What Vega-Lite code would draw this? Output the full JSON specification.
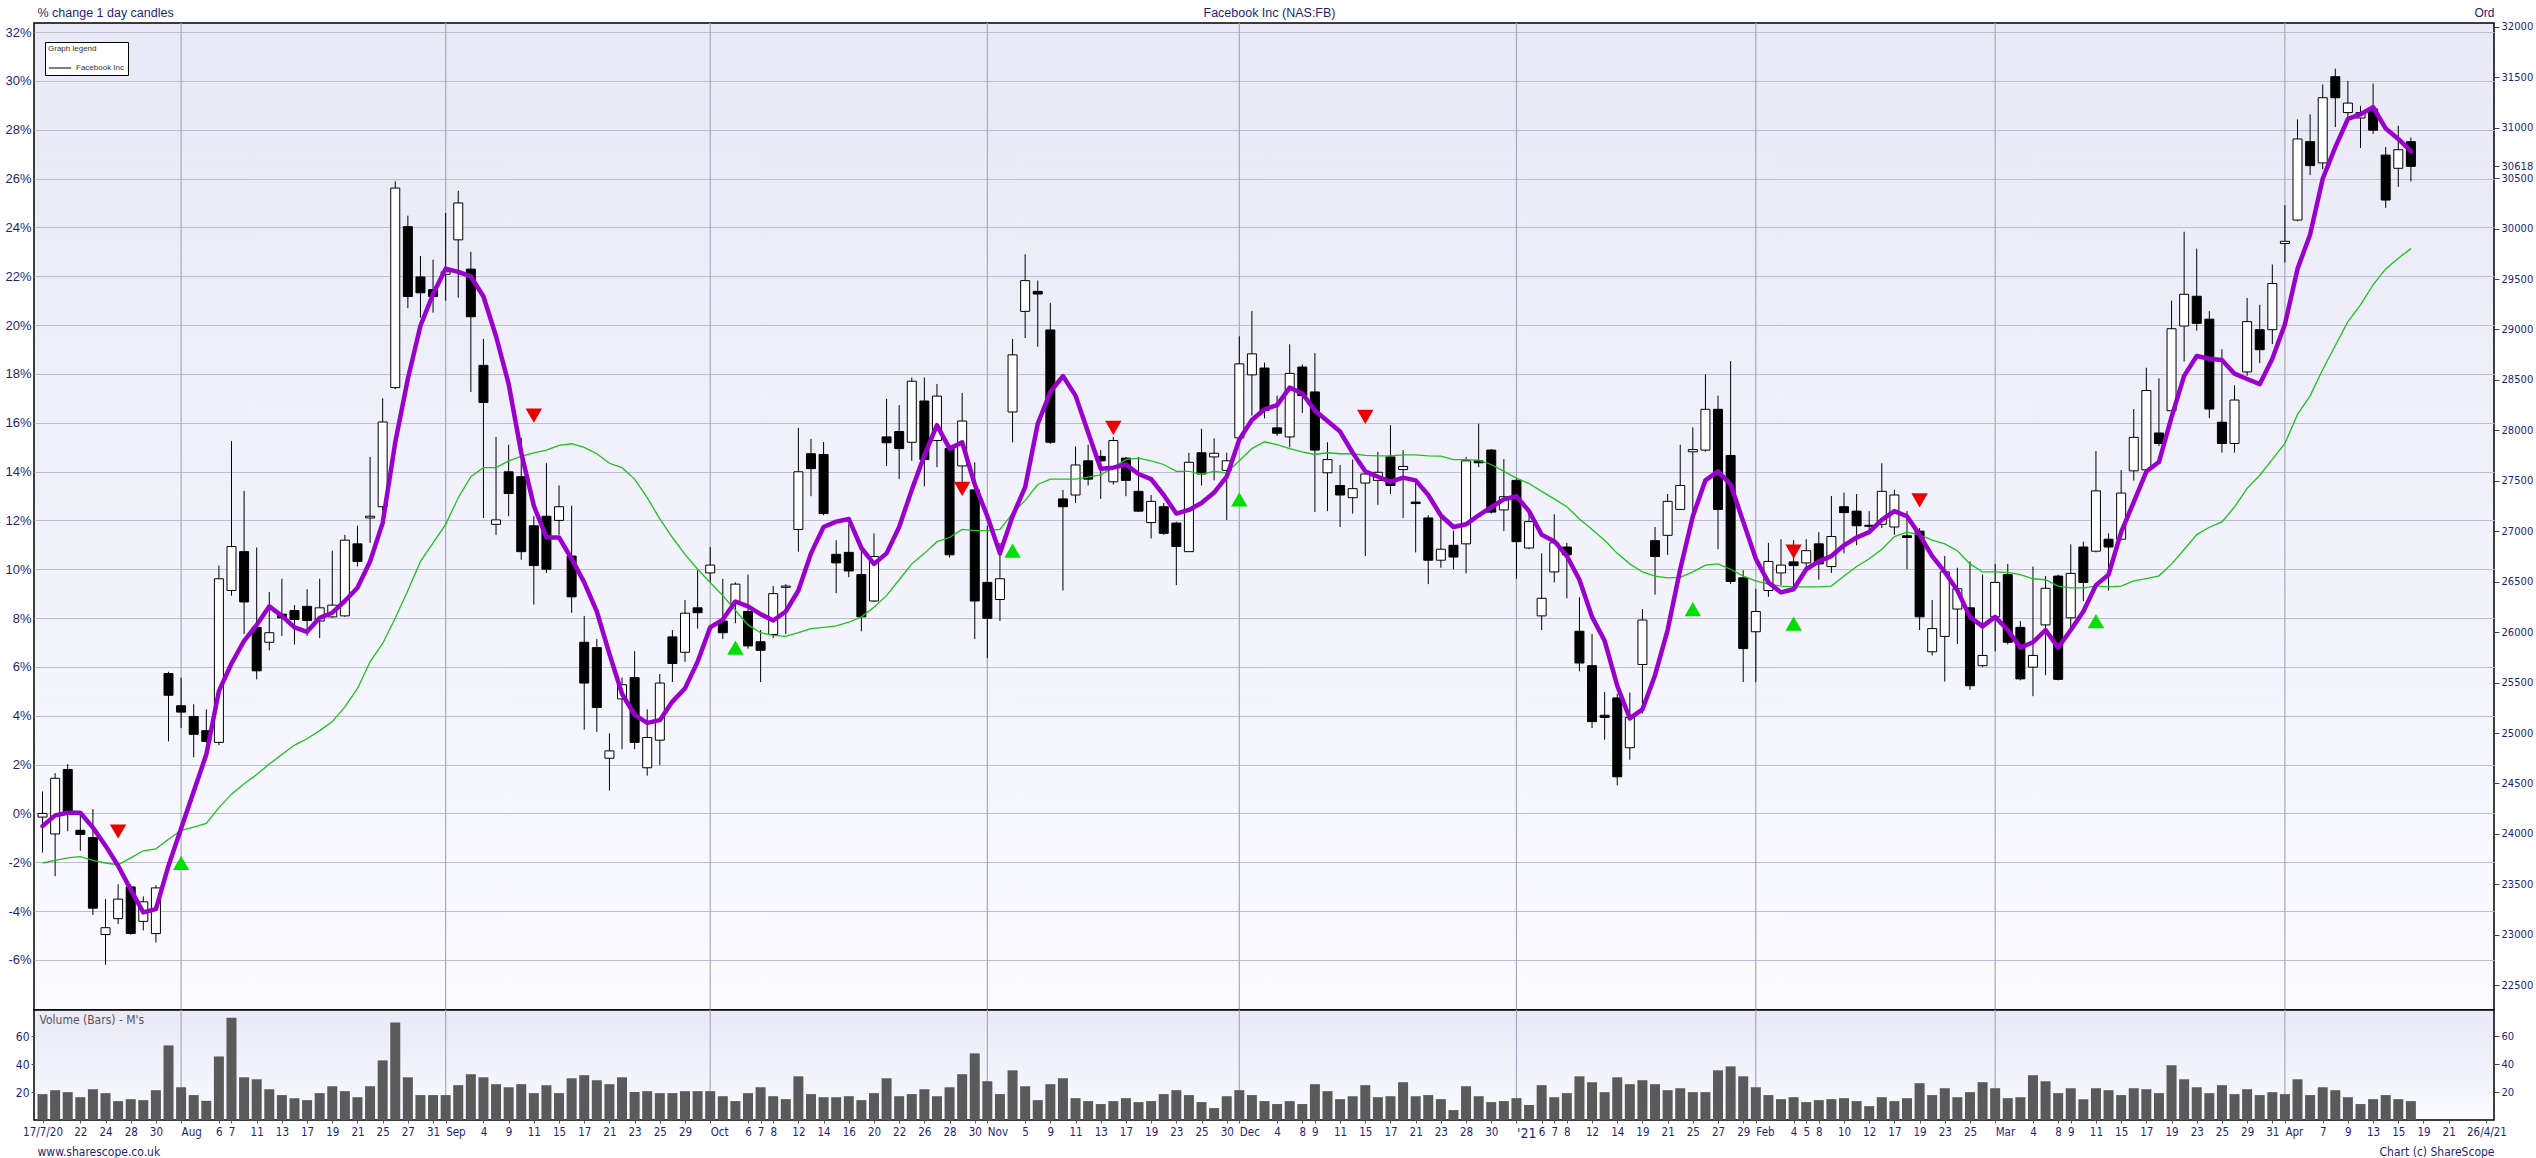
{
"$schema":"https://vega.github.io/schema/vega-lite/v6.json",
"autosize":{"type":"pad"},
"padding":{"left":4,"top":5,"right":4,"bottom":2},
"background":"#ffffff",
"bounds":"flush",
"spacing":0,
"datasets":{
"months":[{"i":11},{"i":32},{"i":53},{"i":75},{"i":95},{"i":117},{"i":136},{"i":155},{"i":178}],
"dn":[{"i":6,"y":-0.74},{"i":39,"y":16.29},{"i":73,"y":13.29},{"i":85,"y":15.79},{"i":105,"y":16.24},{"i":139,"y":10.72},{"i":149,"y":12.82}],
"up":[{"i":11,"y":-2.03},{"i":55,"y":6.79},{"i":77,"y":10.76},{"i":95,"y":12.86},{"i":131,"y":8.37},{"i":139,"y":7.77},{"i":163,"y":7.88}],
"k":[
{"i":0,"o":-0.15,"h":0.9,"l":-1.6,"c":0,"p":-0.52,"g":-2.03,"v":18.5},
{"i":1,"o":-0.84,"h":1.65,"l":-2.57,"c":1.44,"p":-0.08,"g":-1.92,"v":21.3},
{"i":2,"o":1.8,"h":2.02,"l":-0.73,"c":0.07,"p":0.03,"g":-1.82,"v":19.9},
{"i":3,"o":-0.69,"h":0.03,"l":-1.53,"c":-0.86,"p":0.03,"g":-1.77,"v":16.3},
{"i":4,"o":-0.99,"h":0.18,"l":-4.16,"c":-3.88,"p":-0.58,"g":-1.92,"v":22.0},
{"i":5,"o":-4.96,"h":-3.51,"l":-6.2,"c":-4.68,"p":-1.32,"g":-2.03,"v":19.2},
{"i":6,"o":-4.31,"h":-2.9,"l":-4.53,"c":-3.51,"p":-2.14,"g":-2.1,"v":13.5},
{"i":7,"o":-3.01,"h":-2.9,"l":-4.96,"c":-4.92,"p":-3.12,"g":-1.82,"v":14.9},
{"i":8,"o":-4.42,"h":-3.4,"l":-4.79,"c":-3.62,"p":-4.05,"g":-1.53,"v":14.2},
{"i":9,"o":-4.92,"h":-2.94,"l":-5.28,"c":-3.05,"p":-3.92,"g":-1.45,"v":21.3},
{"i":10,"o":5.73,"h":5.8,"l":2.95,"c":4.84,"p":-2.14,"g":-1.06,"v":53.3},
{"i":11,"o":4.41,"h":5.56,"l":3.5,"c":4.15,"p":-0.62,"g":-0.69,"v":23.4},
{"i":12,"o":3.97,"h":4.47,"l":2.3,"c":3.24,"p":0.9,"g":-0.56,"v":17.8},
{"i":13,"o":3.39,"h":4.26,"l":2.89,"c":2.95,"p":2.41,"g":-0.41,"v":13.7},
{"i":14,"o":2.91,"h":10.15,"l":2.8,"c":9.61,"p":5.01,"g":0.24,"v":45.4},
{"i":15,"o":9.13,"h":15.25,"l":8.92,"c":10.93,"p":6.14,"g":0.79,"v":73.1},
{"i":16,"o":10.72,"h":13.21,"l":7.35,"c":8.66,"p":7.07,"g":1.22,"v":30.5},
{"i":17,"o":7.62,"h":10.89,"l":5.49,"c":5.84,"p":7.72,"g":1.59,"v":29.1},
{"i":18,"o":7.01,"h":9.07,"l":6.68,"c":7.4,"p":8.48,"g":2.02,"v":22.0},
{"i":19,"o":8.16,"h":9.61,"l":7.27,"c":8.01,"p":8.09,"g":2.41,"v":17.8},
{"i":20,"o":8.31,"h":8.53,"l":6.92,"c":7.94,"p":7.62,"g":2.8,"v":15.6},
{"i":21,"o":8.48,"h":9.18,"l":7.27,"c":7.9,"p":7.44,"g":3.06,"v":14.2},
{"i":22,"o":7.88,"h":9.61,"l":7.18,"c":8.42,"p":8.01,"g":3.39,"v":19.2},
{"i":23,"o":8.05,"h":10.76,"l":8.01,"c":8.53,"p":8.22,"g":3.76,"v":24.1},
{"i":24,"o":8.09,"h":11.41,"l":8.05,"c":11.19,"p":8.7,"g":4.36,"v":20.6},
{"i":25,"o":11.04,"h":11.78,"l":10.11,"c":10.32,"p":9.24,"g":5.12,"v":16.3},
{"i":26,"o":12.1,"h":14.6,"l":11.08,"c":12.17,"p":10.32,"g":6.21,"v":24.1},
{"i":27,"o":12.56,"h":17.0,"l":12.38,"c":16.03,"p":11.9,"g":6.96,"v":42.6},
{"i":28,"o":17.44,"h":25.89,"l":17.37,"c":25.61,"p":15.2,"g":8.0,"v":69.6},
{"i":29,"o":24.03,"h":24.48,"l":20.69,"c":21.17,"p":17.8,"g":9.13,"v":30.5},
{"i":30,"o":21.97,"h":22.83,"l":20.3,"c":21.32,"p":19.97,"g":10.32,"v":17.8},
{"i":31,"o":21.45,"h":22.68,"l":20.51,"c":21.17,"p":21.27,"g":11.08,"v":17.8},
{"i":32,"o":22.08,"h":24.59,"l":21.0,"c":22.18,"p":22.31,"g":11.84,"v":17.8},
{"i":33,"o":23.49,"h":25.5,"l":21.12,"c":25.0,"p":22.18,"g":12.93,"v":24.9},
{"i":34,"o":22.29,"h":23.0,"l":17.26,"c":20.34,"p":21.99,"g":13.79,"v":32.7},
{"i":35,"o":18.35,"h":19.43,"l":12.1,"c":16.83,"p":21.17,"g":14.16,"v":30.5},
{"i":36,"o":11.84,"h":15.42,"l":11.41,"c":12.02,"p":19.54,"g":14.16,"v":25.6},
{"i":37,"o":13.99,"h":15.1,"l":12.17,"c":13.1,"p":17.59,"g":14.44,"v":23.4},
{"i":38,"o":13.79,"h":15.38,"l":10.39,"c":10.72,"p":14.77,"g":14.62,"v":25.6},
{"i":39,"o":11.78,"h":12.17,"l":8.55,"c":10.15,"p":12.6,"g":14.77,"v":19.2},
{"i":40,"o":12.17,"h":14.34,"l":9.85,"c":10.0,"p":11.3,"g":14.88,"v":24.9},
{"i":41,"o":12.0,"h":13.43,"l":11.41,"c":12.56,"p":11.3,"g":15.07,"v":19.2},
{"i":42,"o":10.54,"h":12.6,"l":8.22,"c":8.87,"p":10.43,"g":15.14,"v":29.8},
{"i":43,"o":7.01,"h":8.09,"l":3.43,"c":5.34,"p":9.46,"g":14.99,"v":32.0},
{"i":44,"o":6.79,"h":7.14,"l":3.34,"c":4.34,"p":8.27,"g":14.73,"v":28.4},
{"i":45,"o":2.26,"h":3.28,"l":0.94,"c":2.56,"p":6.53,"g":14.34,"v":25.6},
{"i":46,"o":4.69,"h":5.56,"l":2.63,"c":5.27,"p":4.9,"g":14.16,"v":30.5},
{"i":47,"o":5.56,"h":6.64,"l":2.63,"c":2.91,"p":4.04,"g":13.69,"v":20.0},
{"i":48,"o":1.87,"h":4.26,"l":1.55,"c":3.11,"p":3.71,"g":12.93,"v":20.6},
{"i":49,"o":3.0,"h":5.71,"l":1.98,"c":5.34,"p":3.82,"g":12.06,"v":19.2},
{"i":50,"o":7.23,"h":7.51,"l":5.38,"c":6.14,"p":4.58,"g":11.3,"v":19.2},
{"i":51,"o":6.6,"h":8.74,"l":6.21,"c":8.2,"p":5.12,"g":10.61,"v":20.6},
{"i":52,"o":8.42,"h":9.96,"l":7.57,"c":8.22,"p":6.21,"g":10.0,"v":20.6},
{"i":53,"o":9.85,"h":10.91,"l":9.46,"c":10.17,"p":7.62,"g":9.46,"v":20.6},
{"i":54,"o":7.88,"h":9.61,"l":7.14,"c":7.4,"p":7.94,"g":8.92,"v":17.0},
{"i":55,"o":8.59,"h":9.46,"l":7.79,"c":9.39,"p":8.68,"g":8.32,"v":13.5},
{"i":56,"o":8.27,"h":9.78,"l":6.75,"c":6.86,"p":8.48,"g":7.72,"v":19.2},
{"i":57,"o":7.03,"h":7.51,"l":5.38,"c":6.68,"p":8.16,"g":7.4,"v":23.4},
{"i":58,"o":7.33,"h":9.31,"l":7.18,"c":9.0,"p":7.9,"g":7.29,"v":17.0},
{"i":59,"o":9.26,"h":9.39,"l":7.35,"c":9.31,"p":8.27,"g":7.25,"v":14.9},
{"i":60,"o":11.63,"h":15.79,"l":10.72,"c":13.99,"p":9.13,"g":7.4,"v":31.2},
{"i":61,"o":14.73,"h":15.34,"l":12.99,"c":14.12,"p":10.65,"g":7.57,"v":18.5},
{"i":62,"o":14.7,"h":15.21,"l":12.21,"c":12.28,"p":11.73,"g":7.62,"v":16.3},
{"i":63,"o":10.61,"h":11.19,"l":9.02,"c":10.26,"p":11.95,"g":7.68,"v":16.3},
{"i":64,"o":10.69,"h":11.84,"l":9.67,"c":9.93,"p":12.06,"g":7.83,"v":17.0},
{"i":65,"o":9.78,"h":10.76,"l":7.46,"c":8.05,"p":10.87,"g":8.05,"v":14.2},
{"i":66,"o":8.7,"h":11.47,"l":8.66,"c":10.52,"p":10.22,"g":8.44,"v":19.2},
{"i":67,"o":15.42,"h":16.98,"l":14.23,"c":15.18,"p":10.65,"g":8.92,"v":29.8},
{"i":68,"o":15.64,"h":16.72,"l":13.69,"c":14.94,"p":11.73,"g":9.57,"v":17.0},
{"i":69,"o":15.2,"h":17.85,"l":14.44,"c":17.7,"p":13.25,"g":10.22,"v":18.5},
{"i":70,"o":16.89,"h":17.85,"l":13.4,"c":14.49,"p":14.66,"g":10.65,"v":22.0},
{"i":71,"o":15.27,"h":17.59,"l":14.18,"c":17.09,"p":15.9,"g":11.13,"v":17.0},
{"i":72,"o":14.94,"h":14.99,"l":10.48,"c":10.59,"p":14.94,"g":11.3,"v":23.4},
{"i":73,"o":14.23,"h":17.22,"l":13.19,"c":16.07,"p":15.2,"g":11.63,"v":32.7},
{"i":74,"o":13.25,"h":14.38,"l":7.14,"c":8.7,"p":13.47,"g":11.58,"v":47.6},
{"i":75,"o":9.46,"h":11.78,"l":6.36,"c":7.99,"p":12.17,"g":11.58,"v":27.7},
{"i":76,"o":8.76,"h":11.08,"l":7.88,"c":9.61,"p":10.65,"g":11.63,"v":18.5},
{"i":77,"o":16.44,"h":19.43,"l":15.2,"c":18.78,"p":12.17,"g":12.28,"v":35.5},
{"i":78,"o":20.56,"h":22.9,"l":19.47,"c":21.82,"p":13.36,"g":12.82,"v":24.1},
{"i":79,"o":21.38,"h":21.82,"l":19.11,"c":21.27,"p":15.96,"g":13.47,"v":14.2},
{"i":80,"o":19.8,"h":20.9,"l":15.14,"c":15.2,"p":17.26,"g":13.69,"v":25.6},
{"i":81,"o":12.88,"h":13.25,"l":9.13,"c":12.56,"p":17.91,"g":13.69,"v":29.8},
{"i":82,"o":13.04,"h":15.03,"l":12.71,"c":14.27,"p":17.11,"g":13.69,"v":15.6},
{"i":83,"o":14.44,"h":15.1,"l":13.43,"c":13.69,"p":15.6,"g":13.77,"v":13.5},
{"i":84,"o":14.62,"h":14.88,"l":12.88,"c":14.44,"p":14.12,"g":13.86,"v":11.4},
{"i":85,"o":13.58,"h":15.42,"l":13.47,"c":15.27,"p":14.16,"g":14.18,"v":13.5},
{"i":86,"o":14.55,"h":14.6,"l":12.99,"c":13.64,"p":14.29,"g":14.49,"v":15.6},
{"i":87,"o":13.19,"h":14.6,"l":12.34,"c":12.38,"p":13.9,"g":14.55,"v":12.8},
{"i":88,"o":11.91,"h":13.04,"l":11.26,"c":12.78,"p":13.69,"g":14.44,"v":13.5},
{"i":89,"o":12.56,"h":12.71,"l":11.41,"c":11.47,"p":13.04,"g":14.29,"v":18.5},
{"i":90,"o":11.89,"h":11.95,"l":9.35,"c":10.93,"p":12.28,"g":14.01,"v":21.3},
{"i":91,"o":10.72,"h":14.77,"l":10.72,"c":14.38,"p":12.43,"g":14.01,"v":17.8},
{"i":92,"o":14.77,"h":15.75,"l":13.43,"c":13.9,"p":12.71,"g":13.9,"v":12.8},
{"i":93,"o":14.6,"h":15.36,"l":13.64,"c":14.75,"p":13.14,"g":14.01,"v":8.5},
{"i":94,"o":14.05,"h":14.77,"l":12.02,"c":14.44,"p":13.79,"g":13.95,"v":17.0},
{"i":95,"o":15.38,"h":19.54,"l":15.31,"c":18.41,"p":15.31,"g":14.44,"v":21.3},
{"i":96,"o":17.96,"h":20.58,"l":16.29,"c":18.82,"p":16.11,"g":14.94,"v":17.8},
{"i":97,"o":18.24,"h":18.46,"l":16.18,"c":16.5,"p":16.55,"g":15.22,"v":13.5},
{"i":98,"o":15.79,"h":17.11,"l":15.46,"c":15.57,"p":16.72,"g":15.1,"v":11.4},
{"i":99,"o":15.42,"h":19.21,"l":14.99,"c":18.02,"p":17.44,"g":14.94,"v":13.5},
{"i":100,"o":18.28,"h":18.39,"l":16.4,"c":17.11,"p":17.2,"g":14.81,"v":11.4},
{"i":101,"o":17.26,"h":18.85,"l":12.34,"c":14.88,"p":16.5,"g":14.7,"v":25.6},
{"i":102,"o":13.95,"h":15.2,"l":12.38,"c":14.49,"p":16.07,"g":14.77,"v":20.6},
{"i":103,"o":13.43,"h":14.27,"l":11.73,"c":13.04,"p":15.64,"g":14.73,"v":14.9},
{"i":104,"o":12.93,"h":14.49,"l":12.28,"c":13.3,"p":14.77,"g":14.73,"v":17.0},
{"i":105,"o":13.53,"h":14.01,"l":10.54,"c":13.9,"p":14.01,"g":14.66,"v":24.9},
{"i":106,"o":13.64,"h":14.81,"l":12.64,"c":13.97,"p":13.79,"g":14.64,"v":16.3},
{"i":107,"o":14.6,"h":15.9,"l":13.08,"c":13.43,"p":13.58,"g":14.64,"v":17.0},
{"i":108,"o":14.08,"h":14.88,"l":12.1,"c":14.21,"p":13.75,"g":14.68,"v":27.0},
{"i":109,"o":12.75,"h":13.58,"l":10.69,"c":12.69,"p":13.64,"g":14.68,"v":17.0},
{"i":110,"o":12.1,"h":12.21,"l":9.39,"c":10.37,"p":13.04,"g":14.64,"v":17.8},
{"i":111,"o":10.37,"h":12.17,"l":10.06,"c":10.82,"p":12.2,"g":14.63,"v":14.9},
{"i":112,"o":10.98,"h":11.58,"l":10.0,"c":10.5,"p":11.73,"g":14.49,"v":7.1},
{"i":113,"o":11.04,"h":14.6,"l":9.83,"c":14.44,"p":11.84,"g":14.49,"v":24.1},
{"i":114,"o":14.44,"h":15.96,"l":14.18,"c":14.36,"p":12.21,"g":14.47,"v":17.0},
{"i":115,"o":14.88,"h":14.92,"l":12.28,"c":12.34,"p":12.54,"g":14.29,"v":12.8},
{"i":116,"o":12.43,"h":14.51,"l":11.56,"c":12.97,"p":12.86,"g":14.01,"v":13.5},
{"i":117,"o":13.64,"h":13.73,"l":9.61,"c":11.13,"p":12.99,"g":13.73,"v":15.6},
{"i":118,"o":10.87,"h":12.43,"l":10.82,"c":11.95,"p":12.38,"g":13.51,"v":10.7},
{"i":119,"o":8.09,"h":10.65,"l":7.51,"c":8.81,"p":11.41,"g":13.19,"v":24.9},
{"i":120,"o":9.89,"h":12.25,"l":9.46,"c":11.08,"p":11.15,"g":12.88,"v":16.3},
{"i":121,"o":10.91,"h":11.08,"l":8.81,"c":10.59,"p":10.54,"g":12.56,"v":19.2},
{"i":122,"o":7.46,"h":8.85,"l":5.82,"c":6.16,"p":9.57,"g":12.06,"v":31.2},
{"i":123,"o":6.05,"h":7.35,"l":3.5,"c":3.76,"p":8.05,"g":11.63,"v":27.0},
{"i":124,"o":4.02,"h":4.97,"l":3.02,"c":3.93,"p":7.07,"g":11.19,"v":19.9},
{"i":125,"o":4.73,"h":4.9,"l":1.15,"c":1.5,"p":5.23,"g":10.65,"v":30.5},
{"i":126,"o":2.69,"h":4.95,"l":2.2,"c":3.93,"p":3.89,"g":10.22,"v":25.6},
{"i":127,"o":6.1,"h":8.37,"l":4.1,"c":7.92,"p":4.26,"g":9.89,"v":28.4},
{"i":128,"o":11.17,"h":11.73,"l":8.96,"c":10.52,"p":5.66,"g":9.72,"v":25.6},
{"i":129,"o":11.39,"h":13.08,"l":10.59,"c":12.78,"p":7.51,"g":9.65,"v":21.3},
{"i":130,"o":12.45,"h":15.1,"l":12.43,"c":13.43,"p":10.0,"g":9.67,"v":22.7},
{"i":131,"o":14.81,"h":15.81,"l":11.95,"c":14.9,"p":12.17,"g":9.89,"v":19.9},
{"i":132,"o":14.88,"h":17.98,"l":14.81,"c":16.55,"p":13.64,"g":10.17,"v":19.9},
{"i":133,"o":16.55,"h":17.11,"l":10.82,"c":12.45,"p":14.01,"g":10.22,"v":35.5},
{"i":134,"o":14.66,"h":18.52,"l":9.39,"c":9.5,"p":13.47,"g":10.0,"v":38.3},
{"i":135,"o":9.65,"h":9.96,"l":5.38,"c":6.75,"p":11.95,"g":9.72,"v":31.2},
{"i":136,"o":7.44,"h":9.2,"l":5.38,"c":8.27,"p":10.43,"g":9.52,"v":23.4},
{"i":137,"o":9.13,"h":11.08,"l":8.87,"c":10.32,"p":9.46,"g":9.39,"v":17.8},
{"i":138,"o":9.85,"h":11.23,"l":9.35,"c":10.17,"p":9.05,"g":9.31,"v":14.9},
{"i":139,"o":10.3,"h":11.19,"l":9.31,"c":10.15,"p":9.18,"g":9.28,"v":16.3},
{"i":140,"o":10.26,"h":11.23,"l":10.0,"c":10.76,"p":10.0,"g":9.28,"v":12.8},
{"i":141,"o":11.04,"h":11.52,"l":9.57,"c":10.22,"p":10.32,"g":9.28,"v":14.2},
{"i":142,"o":10.11,"h":13.0,"l":9.85,"c":11.34,"p":10.54,"g":9.31,"v":14.9},
{"i":143,"o":12.56,"h":13.14,"l":10.65,"c":12.32,"p":10.98,"g":9.72,"v":15.6},
{"i":144,"o":12.38,"h":13.08,"l":10.98,"c":11.78,"p":11.3,"g":10.11,"v":13.5},
{"i":145,"o":11.8,"h":12.38,"l":11.52,"c":11.76,"p":11.52,"g":10.43,"v":9.9},
{"i":146,"o":11.84,"h":14.34,"l":11.69,"c":13.19,"p":12.02,"g":10.82,"v":16.3},
{"i":147,"o":11.73,"h":13.25,"l":11.41,"c":13.04,"p":12.38,"g":11.34,"v":13.5},
{"i":148,"o":11.37,"h":12.38,"l":10.0,"c":11.3,"p":12.17,"g":11.52,"v":15.6},
{"i":149,"o":11.56,"h":11.69,"l":7.51,"c":8.05,"p":11.41,"g":11.41,"v":26.3},
{"i":150,"o":6.62,"h":8.74,"l":6.47,"c":7.57,"p":10.54,"g":11.19,"v":17.8},
{"i":151,"o":7.25,"h":10.54,"l":5.4,"c":9.89,"p":9.89,"g":11.04,"v":22.7},
{"i":152,"o":8.37,"h":10.06,"l":6.94,"c":9.2,"p":9.13,"g":10.76,"v":16.3},
{"i":153,"o":8.42,"h":10.32,"l":5.06,"c":5.23,"p":8.05,"g":10.22,"v":19.9},
{"i":154,"o":6.05,"h":9.78,"l":5.99,"c":6.47,"p":7.66,"g":9.89,"v":27.0},
{"i":155,"o":8.05,"h":10.22,"l":6.64,"c":9.46,"p":8.05,"g":9.89,"v":22.7},
{"i":156,"o":9.78,"h":10.22,"l":6.92,"c":7.01,"p":7.51,"g":9.87,"v":15.6},
{"i":157,"o":7.62,"h":7.88,"l":5.45,"c":5.51,"p":6.79,"g":9.78,"v":16.3},
{"i":158,"o":5.99,"h":10.11,"l":4.8,"c":6.47,"p":7.01,"g":9.61,"v":32.0},
{"i":159,"o":7.72,"h":9.72,"l":5.66,"c":9.22,"p":7.51,"g":9.57,"v":27.7},
{"i":160,"o":9.72,"h":9.78,"l":5.45,"c":5.49,"p":6.79,"g":9.31,"v":19.2},
{"i":161,"o":8.01,"h":11.02,"l":7.51,"c":9.83,"p":7.51,"g":9.24,"v":22.7},
{"i":162,"o":10.91,"h":11.13,"l":8.7,"c":9.46,"p":8.27,"g":9.24,"v":14.9},
{"i":163,"o":10.74,"h":14.84,"l":10.69,"c":13.21,"p":9.35,"g":9.31,"v":22.7},
{"i":164,"o":11.23,"h":11.47,"l":9.13,"c":10.91,"p":9.78,"g":9.28,"v":21.3},
{"i":165,"o":11.23,"h":14.06,"l":11.19,"c":13.12,"p":11.52,"g":9.31,"v":17.8},
{"i":166,"o":14.03,"h":16.56,"l":13.63,"c":15.4,"p":12.75,"g":9.52,"v":22.7},
{"i":167,"o":14.07,"h":18.25,"l":13.96,"c":17.32,"p":14.0,"g":9.62,"v":22.0},
{"i":168,"o":15.58,"h":17.82,"l":15.04,"c":15.15,"p":14.39,"g":9.73,"v":19.2},
{"i":169,"o":16.49,"h":21.0,"l":16.45,"c":19.85,"p":16.23,"g":10.21,"v":39.1},
{"i":170,"o":19.96,"h":23.82,"l":18.51,"c":21.26,"p":17.92,"g":10.81,"v":29.1},
{"i":171,"o":21.18,"h":23.13,"l":19.77,"c":20.07,"p":18.73,"g":11.42,"v":23.4},
{"i":172,"o":20.24,"h":20.57,"l":16.19,"c":16.56,"p":18.62,"g":11.72,"v":19.2},
{"i":173,"o":16.02,"h":19.01,"l":14.78,"c":15.15,"p":18.57,"g":11.94,"v":24.9},
{"i":174,"o":15.15,"h":17.53,"l":14.78,"c":16.93,"p":18.01,"g":12.55,"v":18.5},
{"i":175,"o":18.08,"h":21.11,"l":17.92,"c":20.14,"p":17.79,"g":13.31,"v":22.0},
{"i":176,"o":19.81,"h":20.83,"l":18.44,"c":18.99,"p":17.58,"g":13.85,"v":17.8},
{"i":177,"o":19.81,"h":22.48,"l":19.22,"c":21.7,"p":18.62,"g":14.5,"v":19.9},
{"i":178,"o":23.34,"h":24.91,"l":22.56,"c":23.43,"p":20.03,"g":15.15,"v":18.5},
{"i":179,"o":24.3,"h":28.42,"l":24.25,"c":27.62,"p":22.3,"g":16.34,"v":29.1},
{"i":180,"o":27.51,"h":28.63,"l":26.14,"c":26.53,"p":23.71,"g":17.1,"v":17.8},
{"i":181,"o":26.64,"h":29.85,"l":26.38,"c":29.31,"p":25.99,"g":18.18,"v":23.4},
{"i":182,"o":30.17,"h":30.5,"l":28.11,"c":29.31,"p":27.29,"g":19.16,"v":21.3},
{"i":183,"o":28.7,"h":30.0,"l":28.48,"c":29.09,"p":28.44,"g":20.14,"v":16.3},
{"i":184,"o":28.48,"h":28.98,"l":27.25,"c":28.7,"p":28.63,"g":20.83,"v":11.4},
{"i":185,"o":28.85,"h":29.89,"l":27.83,"c":27.98,"p":28.92,"g":21.65,"v":14.9},
{"i":186,"o":26.96,"h":27.29,"l":24.8,"c":25.12,"p":28.05,"g":22.3,"v":17.8},
{"i":187,"o":26.42,"h":28.16,"l":25.66,"c":27.18,"p":27.62,"g":22.74,"v":14.9},
{"i":188,"o":27.51,"h":27.68,"l":25.88,"c":26.5,"p":27.12,"g":23.13,"v":13.5}
]},
"vconcat":[
{
"width":2460,"height":987,
"layer":[
{"layer":[
{"data":{"name":"months"},"mark":{"type":"rule","color":"#A8A8BC","strokeWidth":1.2},
 "encoding":{"x":{"field":"i","type":"quantitative","scale":{"domain":[-0.28,194.2],"nice":false,"zero":false},
  "axis":{"orient":"top","values":[],"labels":false,"ticks":false,"domain":false,"grid":false,
   "title":"Facebook Inc (NAS:FB)","titleX":1235,"titleY":-11,"titleAlign":"center","titleBaseline":"middle","titleAngle":0,"titleFont":"Liberation Sans","titleFontSize":12.5,"titleFontWeight":"normal","titleColor":"#1F1F7A"}}}},
{"data":{"name":"k"},"mark":{"type":"rule","strokeWidth":1,"clip":true},
 "encoding":{
  "x":{"field":"i","type":"quantitative","scale":{"domain":[-0.28,194.2],"nice":false,"zero":false}},
  "y":{"field":"l","type":"quantitative","scale":{"domain":[-8.05,32.37],"nice":false,"zero":false},
   "axis":{"values":[-6,-4,-2,0,2,4,6,8,10,12,14,16,18,20,22,24,26,28,30,32],"tickCount":100,"labelExpr":"datum.value + '%'","grid":true,"gridColor":"#BCBCCE","gridWidth":1,"domain":false,"ticks":false,"labelPadding":3,"labelFontSize":13,"labelFont":"Liberation Sans","labelColor":"#1F1F7A","labelOverlap":false,
    "title":"% change 1 day candles","titleAngle":0,"titleAlign":"left","titleBaseline":"middle","titleX":3,"titleY":-11,"titleFontSize":12.5,"titleFont":"Liberation Sans","titleFontWeight":"normal","titleColor":"#1F1F7A"}},
  "y2":{"field":"h"},
  "color":{"datum":"Facebook Inc","type":"nominal","scale":{"range":["#000000"]},
   "legend":{"title":"Graph legend","orient":"none","legendX":11,"legendY":19,"direction":"vertical","symbolType":"stroke","symbolSize":500,"symbolStrokeWidth":1,"strokeColor":"#000000","fillColor":"#ffffff","padding":3,"titlePadding":3,"rowPadding":0,"labelOffset":4,"titleFontSize":8,"labelFontSize":8,"titleFont":"Liberation Sans","labelFont":"Liberation Sans","titleFontWeight":"normal","titleColor":"#333333","labelColor":"#333333"}}}},
{"data":{"name":"k"},"mark":{"type":"bar","orient":"vertical","width":9,"stroke":"#000000","strokeWidth":1,"clip":true},
 "encoding":{
  "x":{"field":"i","type":"quantitative","scale":{"domain":[-0.28,194.2],"nice":false,"zero":false}},
  "y":{"field":"o","type":"quantitative","scale":{"domain":[-8.05,32.37],"nice":false,"zero":false}},
  "y2":{"field":"c"},
  "fill":{"condition":{"test":"datum.c >= datum.o","value":"#ffffff"},"value":"#000000"}}},
{"data":{"name":"k"},"mark":{"type":"line","color":"#1DC21D","strokeWidth":1.3},
 "encoding":{
  "x":{"field":"i","type":"quantitative","scale":{"domain":[-0.28,194.2],"nice":false,"zero":false}},
  "y":{"field":"g","type":"quantitative","scale":{"domain":[-8.05,32.37],"nice":false,"zero":false}}}},
{"data":{"name":"k"},"mark":{"type":"line","color":"#9A00CC","strokeWidth":4.5,"strokeCap":"round","strokeJoin":"round"},
 "encoding":{
  "x":{"field":"i","type":"quantitative","scale":{"domain":[-0.28,194.2],"nice":false,"zero":false}},
  "y":{"field":"p","type":"quantitative","scale":{"domain":[-8.05,32.37],"nice":false,"zero":false}}}},
{"data":{"name":"dn"},"mark":{"type":"point","shape":"triangle-down","filled":true,"size":270,"color":"#EE0000","opacity":1},
 "encoding":{
  "x":{"field":"i","type":"quantitative","scale":{"domain":[-0.28,194.2],"nice":false,"zero":false}},
  "y":{"field":"y","type":"quantitative","scale":{"domain":[-8.05,32.37],"nice":false,"zero":false}}}},
{"data":{"name":"up"},"mark":{"type":"point","shape":"triangle-up","filled":true,"size":270,"color":"#00E000","opacity":1},
 "encoding":{
  "x":{"field":"i","type":"quantitative","scale":{"domain":[-0.28,194.2],"nice":false,"zero":false}},
  "y":{"field":"y","type":"quantitative","scale":{"domain":[-8.05,32.37],"nice":false,"zero":false}}}}
]},
{"data":{"name":"k"},"mark":{"type":"point","opacity":0},
 "encoding":{
  "x":{"field":"i","type":"quantitative","scale":{"domain":[-0.28,194.2],"nice":false,"zero":false}},
  "y":{"field":"c","type":"quantitative","scale":{"domain":[-8.05,32.37],"nice":false,"zero":false},
   "axis":{"orient":"right","values":[-7.0364,-4.9705,-2.9046,-0.8388,1.2271,3.293,5.3588,7.4247,9.4906,11.5564,13.6223,15.6881,17.754,19.8198,21.8857,23.9516,26.0174,28.0833,30.1491,32.215,26.505],"tickCount":100,
    "labelExpr":"format(24203*(1+datum.value/100), '.0f')","grid":false,"domain":false,"ticks":true,"tickSize":5,"tickColor":"#444444","labelPadding":2,"labelFont":"DejaVu Sans","labelFontSize":10,"labelColor":"#1F1F7A","labelOverlap":false,
    "title":"Ord","titleAngle":0,"titleAlign":"right","titleBaseline":"middle","titleX":0,"titleY":-11,"titleFont":"Liberation Sans","titleFontSize":12,"titleFontWeight":"normal","titleColor":"#1F1F7A"}}}}
],
"resolve":{"scale":{"y":"independent"}}
},
{
"width":2460,"height":110,
"layer":[
{"layer":[
{"data":{"name":"months"},"mark":{"type":"rule","color":"#A8A8BC","strokeWidth":1.2},
 "encoding":{"x":{"field":"i","type":"quantitative","scale":{"domain":[-0.28,194.2],"nice":false,"zero":false}}}},
{"data":{"name":"k"},"mark":{"type":"bar","orient":"vertical","width":10,"color":"#5A5A5A","clip":true},
 "encoding":{
  "x":{"field":"i","type":"quantitative","scale":{"domain":[-0.28,194.2],"nice":false,"zero":false},
   "axis":{"values":[0,3,5,7,9,11,14,15,17,19,21,23,25,27,29,31,32,35,37,39,41,43,45,47,49,51,53,56,57,58,60,62,64,66,68,70,72,74,75,78,80,82,84,86,88,90,92,94,95,98,100,101,103,105,107,109,111,113,115,117,119,120,121,123,125,127,129,131,133,135,136,139,140,141,143,145,147,149,151,153,155,158,160,161,163,165,167,169,171,173,175,177,178,181,183,185,187,189,191,194],"tickCount":300,
    "labelExpr":"['17/7/20','22','24','28','30','Aug','6','7','11','13','17','19','21','25','27','31','Sep','4','9','11','15','17','21','23','25','29','Oct','6','7','8','12','14','16','20','22','26','28','30','Nov','5','9','11','13','17','19','23','25','30','Dec','4','8','9','11','15','17','21','23','28','30',\"'21\",'6','7','8','12','14','19','21','25','27','29','Feb','4','5','8','10','12','17','19','23','25','Mar','4','8','9','11','15','17','19','23','25','29','31','Apr','7','9','13','15','19','21','26/4/21'][indexof([0,3,5,7,9,11,14,15,17,19,21,23,25,27,29,31,32,35,37,39,41,43,45,47,49,51,53,56,57,58,60,62,64,66,68,70,72,74,75,78,80,82,84,86,88,90,92,94,95,98,100,101,103,105,107,109,111,113,115,117,119,120,121,123,125,127,129,131,133,135,136,139,140,141,143,145,147,149,151,153,155,158,160,161,163,165,167,169,171,173,175,177,178,181,183,185,187,189,191,194], datum.value)]",
    "labelAlign":{"condition":{"test":"indexof([11,32,53,75,95,117,136,155,178], datum.value) >= 0","value":"left"},"value":"center"},
    "labelFontSize":{"condition":{"test":"datum.value == 117","value":14},"value":11.5},
    "grid":false,"domain":false,"ticks":true,"tickSize":3,"tickColor":"#555555","labelPadding":3,"labelFont":"Liberation Sans Narrow, DejaVu Sans Condensed, Liberation Sans","labelColor":"#1F1F7A","labelOverlap":false,"labelFlush":false,"labelBound":false,
    "title":"www.sharescope.co.uk","titleX":3,"titleY":31,"titleAlign":"left","titleBaseline":"middle","titleAngle":0,"titleFont":"Liberation Sans Narrow, DejaVu Sans Condensed, Liberation Sans","titleFontSize":12,"titleFontWeight":"normal","titleColor":"#1F1F7A"}},
  "y":{"field":"v","type":"quantitative","scale":{"domain":[0,78.6],"nice":false,"zero":true},
   "axis":{"values":[20,40,60],"grid":false,"domain":false,"ticks":true,"tickSize":3,"tickColor":"#555555","labelPadding":2,"labelFont":"Liberation Sans Narrow, DejaVu Sans Condensed, Liberation Sans","labelFontSize":12,"labelColor":"#1F1F7A",
    "title":"Volume (Bars) - M's","titleAngle":0,"titleAlign":"left","titleBaseline":"middle","titleX":5,"titleY":9,"titleFont":"Liberation Sans Narrow, DejaVu Sans Condensed, Liberation Sans","titleFontSize":12,"titleFontWeight":"normal","titleColor":"#555555"}}}}
]},
{"data":{"name":"k"},"mark":{"type":"point","opacity":0},
 "encoding":{
  "x":{"field":"i","type":"quantitative","scale":{"domain":[-0.28,194.2],"nice":false,"zero":false}},
  "y":{"field":"v","type":"quantitative","scale":{"domain":[0,78.6],"nice":false,"zero":true},
   "axis":{"orient":"right","values":[20,40,60],"grid":false,"domain":false,"ticks":true,"tickSize":5,"tickColor":"#444444","labelPadding":2,"labelFont":"DejaVu Sans","labelFontSize":10,"labelColor":"#1F1F7A",
    "title":"Chart (c) ShareScope","titleAngle":0,"titleAlign":"right","titleBaseline":"middle","titleX":0,"titleY":141,"titleFont":"Liberation Sans Narrow, DejaVu Sans Condensed, Liberation Sans","titleFontSize":12,"titleFontWeight":"normal","titleColor":"#1F1F7A"}}}}
],
"resolve":{"scale":{"y":"independent"}}
}
],
"config":{
 "view":{"stroke":"#000000","strokeWidth":1.5,"fill":{"gradient":"linear","x1":0,"y1":0,"x2":0,"y2":1,"stops":[{"offset":0,"color":"#E9E9F7"},{"offset":1,"color":"#FAFAFF"}]}},
 "axis":{"labelOverlap":false,"labelFlush":false},
 "font":"Liberation Sans"
}
}
